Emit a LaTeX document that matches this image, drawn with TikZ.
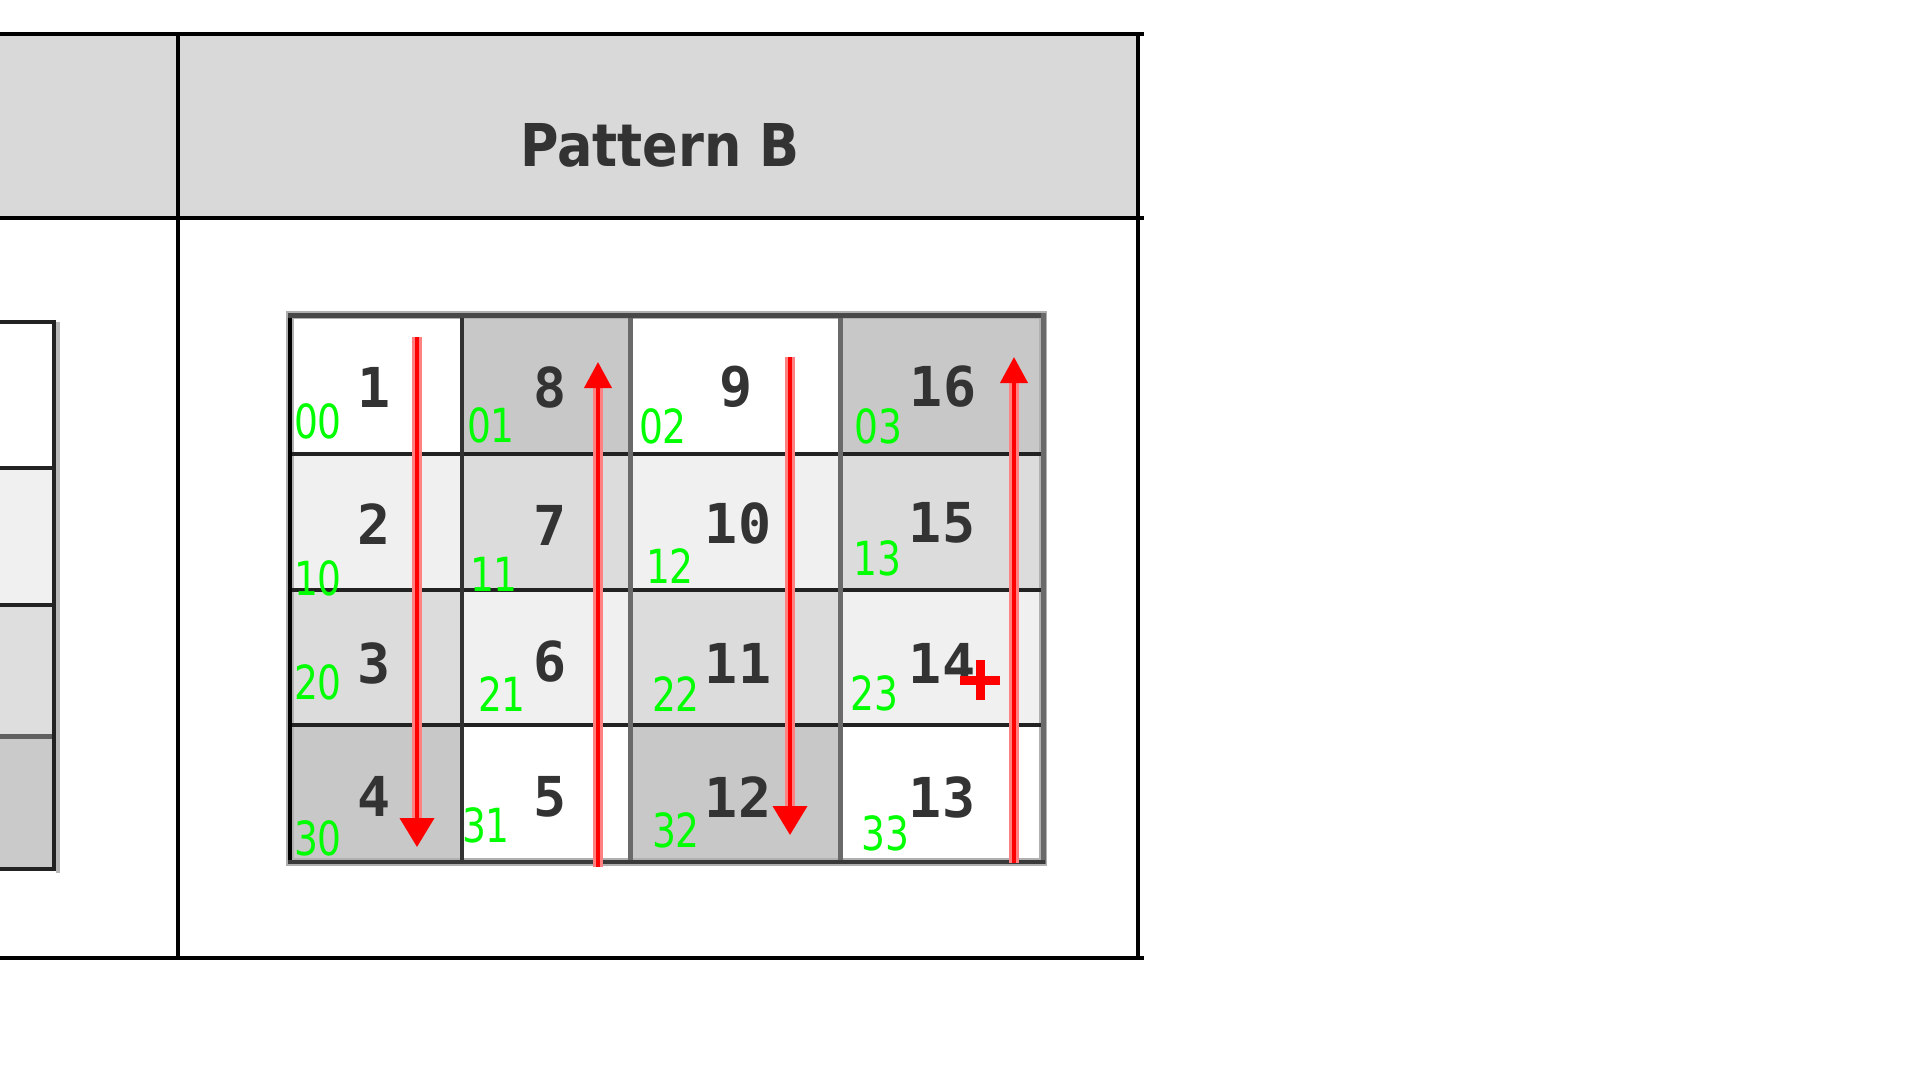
\documentclass[tikz,border=0pt]{standalone}
\usepackage{fontspec}
\usetikzlibrary{arrows.meta}
\newfontfamily\hdrfont[FakeStretch=0.89]{DejaVu Sans}
\newfontfamily\numfont{DejaVu Sans Mono}
\newfontfamily\cvfont[FakeStretch=0.8]{DejaVu Sans}
\definecolor{hdrfill}{HTML}{D9D9D9}
\definecolor{cW}{HTML}{FFFFFF}
\definecolor{cL}{HTML}{F0F0F0}
\definecolor{cM}{HTML}{DCDCDC}
\definecolor{cD}{HTML}{C8C8C8}
\definecolor{cLM}{HTML}{DEDEDE}
\definecolor{cLD}{HTML}{CACACA}
\definecolor{numc}{HTML}{333333}
\definecolor{hdrtext}{HTML}{333333}
\definecolor{cvgreen}{HTML}{00FF00}
\definecolor{flowred}{HTML}{FF0000}
\definecolor{halored}{HTML}{FF8080}
\definecolor{gline}{HTML}{222222}
\definecolor{gline2}{HTML}{6A6A6A}
\definecolor{gline3}{HTML}{606060}
\definecolor{gline4}{HTML}{323232}
\definecolor{gline5}{HTML}{484848}
\definecolor{gline6}{HTML}{3A3A3A}
\definecolor{gshadow}{HTML}{B0B0B0}
\definecolor{gshadow2}{HTML}{B8B8B8}
\begin{document}
\begin{tikzpicture}[x=1pt,y=-1pt,
  num/.style={font=\numfont\bfseries\fontsize{55}{55}\selectfont, text=numc, inner sep=0pt},
  idx/.style={font=\cvfont\fontsize{47}{47}\selectfont, text=cvgreen, inner sep=0pt},
  flowdown/.style={flowred, line width=4pt, -{Triangle[width=34pt,length=29pt]}},
  flowup/.style={flowred, line width=4pt, -{Triangle[width=27pt,length=26pt]}},
  halo/.style={halored, line width=10pt},
  tline/.style={black, line width=4pt},
  hdr/.style={font=\hdrfont\bfseries\fontsize{59}{59}\selectfont, text=hdrtext, inner sep=0pt}]
\useasboundingbox (0,0) rectangle (1920,1080);
\fill[white] (0,0) rectangle (1920,1080);

% ---- outer table ----
\fill[hdrfill] (0,34) rectangle (1138,218);
\node[hdr] (title) at (660,145.5) {Pattern B};
\draw[tline] (0,34) -- (1144,34);
\draw[tline] (0,218) -- (1144,218);
\draw[tline] (0,958) -- (1144,958);
\draw[tline] (178,34) -- (178,960);
\draw[tline] (1138,34) -- (1138,960);

% ---- partial left grid ----
\fill[cW] (0,322) rectangle (54,468);
\fill[cL] (0,468) rectangle (54,605);
\fill[cLM] (0,605) rectangle (54,736);
\fill[cLD] (0,736) rectangle (54,869);
\draw[gshadow2, line width=4pt] (58,322) -- (58,873);
\draw[gline, line width=4pt] (0,322) -- (56,322);
\draw[gline, line width=4pt] (0,468) -- (56,468);
\draw[gline, line width=4pt] (0,605) -- (56,605);
\draw[gline3, line width=5pt] (0,736) -- (56,736);
\draw[gline, line width=4pt] (0,869) -- (56,869);
\draw[gline, line width=4pt] (54,320) -- (54,871);

% ---- pattern B grid cells ----
\fill[cW] (290,315) rectangle (462,454);
\fill[cD] (462,315) rectangle (630,454);
\fill[cW] (630,315) rectangle (840,454);
\fill[cD] (840,315) rectangle (1043,454);
\fill[cL] (290,454) rectangle (462,590);
\fill[cM] (462,454) rectangle (630,590);
\fill[cL] (630,454) rectangle (840,590);
\fill[cM] (840,454) rectangle (1043,590);
\fill[cM] (290,590) rectangle (462,725);
\fill[cL] (462,590) rectangle (630,725);
\fill[cM] (630,590) rectangle (840,725);
\fill[cL] (840,590) rectangle (1043,725);
\fill[cD] (290,725) rectangle (462,862);
\fill[cW] (462,725) rectangle (630,862);
\fill[cD] (630,725) rectangle (840,862);
\fill[cW] (840,725) rectangle (1043,862);

\draw[gshadow, line width=8pt] (290,315) rectangle (1043,862);
\draw[gline, line width=4pt] (290,454) -- (1043,454);
\draw[gline, line width=4pt] (290,590) -- (1043,590);
\draw[gline, line width=4pt] (290,725) -- (1043,725);
\draw[gline4, line width=4pt] (462,315) -- (462,862);
\draw[gline2, line width=5pt] (630,315) -- (630,862);
\draw[gline2, line width=5pt] (840,315) -- (840,862);
\draw[black, line width=4pt] (290,313) -- (290,864);
\draw[gline5, line width=5pt] (288,315) -- (1045,315);
\draw[gline2, line width=5pt] (1043,313) -- (1043,864);
\draw[gline6, line width=4pt] (288,862) -- (1045,862);

% ---- numbers ----
\node[num] (n1)  at (374,387) {1};
\node[num] (n8)  at (550,387) {8};
\node[num] (n9)  at (736,387) {9};
\node[num] (n16) at (943,387) {16};
\node[num] (n2)  at (374,524) {2};
\node[num] (n7)  at (550,525) {7};
\node[num] (n10) at (738,523) {10};
\node[num] (n15) at (942,523) {15};
\node[num] (n3)  at (374,663) {3};
\node[num] (n6)  at (550,662) {6};
\node[num] (n11) at (738,663) {11};
\node[num] (n14) at (942,663) {14};
\node[num] (n4)  at (374,796) {4};
\node[num] (n5)  at (550,797) {5};
\node[num] (n12) at (738,797) {12};
\node[num] (n13) at (942,797) {13};

% ---- green index labels ----
\node[idx] (i00) at (318,421) {00};
\node[idx] (i01) at (491,425) {01};
\node[idx] (i02) at (663,426) {02};
\node[idx] (i03) at (878,426) {03};
\node[idx] (i10) at (318,578) {10};
\node[idx] (i11) at (494,574) {11};
\node[idx] (i12) at (670,566) {12};
\node[idx] (i13) at (877,558) {13};
\node[idx] (i20) at (318,682) {20};
\node[idx] (i21) at (502,694) {21};
\node[idx] (i22) at (676,694) {22};
\node[idx] (i23) at (874,693) {23};
\node[idx] (i30) at (318,838) {30};
\node[idx] (i31) at (486,825) {31};
\node[idx] (i32) at (676,830) {32};
\node[idx] (i33) at (885,833) {33};

% ---- flow arrows ----
\coordinate (a1s) at (417,337);  \coordinate (a1e) at (417,847);
\coordinate (a2s) at (598,867);  \coordinate (a2e) at (598,362);
\coordinate (a3s) at (790,357);  \coordinate (a3e) at (790,835);
\coordinate (a4s) at (1014,863); \coordinate (a4e) at (1014,357);
\draw[halo, shorten >=26pt] (a1s) -- (a1e);
\draw[halo, shorten >=24pt] (a2s) -- (a2e);
\draw[halo, shorten >=26pt] (a3s) -- (a3e);
\draw[halo, shorten >=24pt] (a4s) -- (a4e);
\draw[flowdown] (a1s) -- (a1e);
\draw[flowup] (a2s) -- (a2e);
\draw[flowdown] (a3s) -- (a3e);
\draw[flowup] (a4s) -- (a4e);

% ---- red marker ----
\coordinate (pc) at (980,680);
\draw[flowred, line width=9pt] ([xshift=-20pt]pc) -- ([xshift=20pt]pc);
\draw[flowred, line width=9pt] ([yshift=-20pt]pc) -- ([yshift=20pt]pc);
\end{tikzpicture}
\end{document}
